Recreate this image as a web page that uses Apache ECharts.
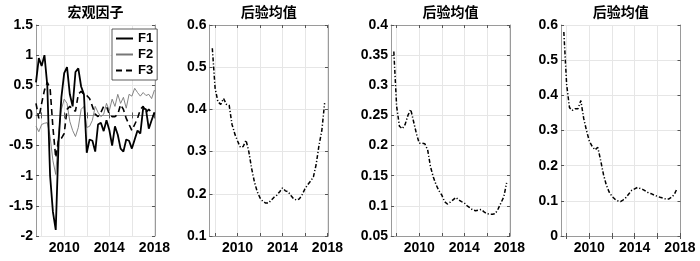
<!DOCTYPE html>
<html><head><meta charset="utf-8">
<script src="https://cdn.jsdelivr.net/npm/echarts@6/dist/echarts.min.js"></script>
<style>html,body{margin:0;padding:0;background:#fff}#c{width:700px;height:261px}</style>
</head><body><div id="c"></div>
<script>
// ---- data ----
const titles = ['宏观因子', '后验均值', '后验均值', '后验均值'];
const xTickValues = [2008, 2010, 2012, 2014, 2016, 2018];
const xLabelValues = [2010, 2014, 2018];
// panel 1: quarterly 2007.50 .. 2018.00
const timeF = [2007.5,2007.75,2008,2008.25,2008.5,2008.75,2009,2009.25,2009.5,2009.75,2010,2010.25,2010.5,2010.75,2011,2011.25,2011.5,2011.75,2012,2012.25,2012.5,2012.75,2013,2013.25,2013.5,2013.75,2014,2014.25,2014.5,2014.75,2015,2015.25,2015.5,2015.75,2016,2016.25,2016.5,2016.75,2017,2017.25,2017.5,2017.75,2018];
const f1 = [0.55,0.95,0.82,1.0,0.5,-1.0,-1.6,-1.9,-0.45,0.3,0.7,0.8,0.35,0.15,0.72,0.78,0.48,0.35,-0.62,-0.4,-0.42,-0.6,-0.15,-0.12,-0.26,-0.08,-0.24,-0.5,-0.18,-0.32,-0.55,-0.6,-0.4,-0.42,-0.55,-0.4,-0.25,-0.3,0.12,0.1,-0.22,-0.08,0.05];
const f2 = [-0.18,-0.27,-0.15,-0.13,-0.12,-0.35,-0.75,-0.98,-0.3,0.1,0.27,0.2,-0.1,-0.25,-0.35,-0.2,0.1,0.15,-0.2,-0.18,-0.08,0.15,0.05,-0.02,0.02,0.2,0.08,0.27,0.15,0.35,0.2,0.3,0.12,0.35,0.32,0.45,0.38,0.32,0.38,0.33,0.35,0.28,0.42];
const f3 = [0.2,-0.05,0.2,0.42,0.55,0.45,-0.2,-0.7,-0.4,-0.38,-0.3,0.1,0.15,0.1,0.07,0.35,0.4,0.35,0.33,0.28,0.15,0.02,-0.02,0.05,0.15,0.15,0.02,-0.02,-0.02,0.02,0.18,0.1,-0.05,-0.15,-0.25,-0.15,-0.05,0.1,0.15,0.05,0.1,0.05,0.02];
// panels 2-4: quarterly 2007.75 .. 2017.75
const timeP = [2007.75,2008,2008.25,2008.5,2008.75,2009,2009.25,2009.5,2009.75,2010,2010.25,2010.5,2010.75,2011,2011.25,2011.5,2011.75,2012,2012.25,2012.5,2012.75,2013,2013.25,2013.5,2013.75,2014,2014.25,2014.5,2014.75,2015,2015.25,2015.5,2015.75,2016,2016.25,2016.5,2016.75,2017,2017.25,2017.5,2017.75];
const post1 = [0.545,0.45,0.418,0.412,0.426,0.412,0.41,0.365,0.342,0.325,0.31,0.312,0.327,0.3,0.26,0.228,0.205,0.19,0.182,0.178,0.178,0.185,0.192,0.197,0.205,0.214,0.207,0.205,0.196,0.188,0.185,0.188,0.198,0.212,0.222,0.23,0.24,0.27,0.315,0.35,0.415];
const post2 = [0.356,0.265,0.232,0.228,0.235,0.25,0.26,0.24,0.22,0.204,0.204,0.203,0.193,0.165,0.148,0.135,0.125,0.118,0.107,0.103,0.106,0.11,0.114,0.11,0.107,0.105,0.1,0.097,0.093,0.092,0.093,0.094,0.09,0.087,0.086,0.086,0.087,0.095,0.105,0.115,0.138];
const post3 = [0.58,0.43,0.365,0.357,0.362,0.362,0.385,0.335,0.3,0.27,0.255,0.245,0.252,0.215,0.175,0.145,0.125,0.113,0.105,0.1,0.098,0.103,0.11,0.12,0.13,0.134,0.138,0.135,0.132,0.127,0.122,0.12,0.116,0.113,0.11,0.108,0.105,0.105,0.11,0.118,0.135];
const yRanges = [[-2, 1.5, 0.5], [0.1, 0.6, 0.1], [0.05, 0.4, 0.05], [0, 0.6, 0.1]];

// ---- layout / style ----
const FONT = '"Liberation Sans", "Noto Sans CJK SC", sans-serif';
const grids = [
  {left: 36, top: 25, width: 119, height: 211},
  {left: 209.5, top: 25, width: 118.5, height: 211},
  {left: 391, top: 25, width: 119, height: 211},
  {left: 561, top: 25, width: 119.5, height: 211}
];
const X_MIN = 2007.5, X_MAX = 2018.05;
const BORDER = '#9a9a9a', GRIDC = '#e6e6e6';
const zip = (xs, ys) => xs.map((x, i) => [x, ys[i]]);

const xAxes = [], yAxes = [], titleArr = [];
grids.forEach((g, i) => {
  xAxes.push({
    type: 'value', gridIndex: i, position: 'bottom', min: X_MIN, max: X_MAX,
    axisLine: {show: true, lineStyle: {color: BORDER, width: 1}},
    axisTick: {show: true, inside: true, length: 3, customValues: xTickValues, lineStyle: {color: '#555'}},
    axisLabel: {customValues: xLabelValues, margin: 5, color: '#000', fontWeight: 'bold', fontSize: 14, fontFamily: FONT,
                formatter: v => String(Math.round(v))},
    splitLine: {show: true, lineStyle: {color: GRIDC, width: 1}}
  });
  const [mn, mx, iv] = yRanges[i];
  yAxes.push({
    type: 'value', gridIndex: i, position: 'left', min: mn, max: mx, interval: iv,
    axisLine: {show: true, lineStyle: {color: BORDER, width: 1}},
    axisTick: {show: true, inside: true, length: 3, lineStyle: {color: '#555'}},
    axisLabel: {margin: 3, color: '#000', fontWeight: 'bold', fontSize: 14, fontFamily: FONT},
    splitLine: {show: true, lineStyle: {color: GRIDC, width: 1}}
  });
  titleArr.push({
    text: titles[i], left: g.left + g.width / 2, top: 5, textAlign: 'center', padding: 0,
    textStyle: {fontSize: 14, fontWeight: 'bold', color: '#000', fontFamily: '"Noto Sans CJK SC", sans-serif'}
  });
});
grids.forEach((g, i) => {
  xAxes.push({
    type: 'value', gridIndex: i, position: 'top', min: X_MIN, max: X_MAX,
    axisLine: {show: true, lineStyle: {color: BORDER, width: 1}},
    axisTick: {show: true, inside: true, length: 3, customValues: xTickValues, lineStyle: {color: '#555'}},
    axisLabel: {show: false}, splitLine: {show: false}
  });
  const [mn, mx, iv] = yRanges[i];
  yAxes.push({
    type: 'value', gridIndex: i, position: 'right', min: mn, max: mx, interval: iv,
    axisLine: {show: true, lineStyle: {color: BORDER, width: 1}},
    axisTick: {show: true, inside: true, length: 3, lineStyle: {color: '#555'}},
    axisLabel: {show: false}, splitLine: {show: false}
  });
});

const DASHDOT = [4, 2, 1.2, 2];
const series = [
  {name: 'F1', type: 'line', xAxisIndex: 0, yAxisIndex: 0, data: zip(timeF, f1), symbol: 'none',
   lineStyle: {color: '#000', width: 1.8}, itemStyle: {color: '#000'}, z: 5},
  {name: 'F2', type: 'line', xAxisIndex: 0, yAxisIndex: 0, data: zip(timeF, f2), symbol: 'none',
   lineStyle: {color: '#777', width: 0.9}, itemStyle: {color: '#777'}, z: 3},
  {name: 'F3', type: 'line', xAxisIndex: 0, yAxisIndex: 0, data: zip(timeF, f3), symbol: 'none',
   lineStyle: {color: '#000', width: 1.6, type: [6, 4]}, itemStyle: {color: '#000'}, z: 4},
  {type: 'line', xAxisIndex: 1, yAxisIndex: 1, data: zip(timeP, post1), symbol: 'none',
   lineStyle: {color: '#000', width: 1.5, type: DASHDOT}},
  {type: 'line', xAxisIndex: 2, yAxisIndex: 2, data: zip(timeP, post2), symbol: 'none',
   lineStyle: {color: '#000', width: 1.5, type: DASHDOT}},
  {type: 'line', xAxisIndex: 3, yAxisIndex: 3, data: zip(timeP, post3), symbol: 'none',
   lineStyle: {color: '#000', width: 1.5, type: DASHDOT}}
];

const chart = echarts.init(document.getElementById('c'), null, {renderer: 'canvas'});
chart.setOption({
  animation: false,
  backgroundColor: '#fff',
  title: titleArr,
  grid: grids.map(g => Object.assign({containLabel: false}, g)),
  xAxis: xAxes,
  yAxis: yAxes,
  legend: {
    data: ['F1', 'F2', 'F3'], orient: 'vertical', left: 112, top: 29,
    itemWidth: 17, itemHeight: 10, itemGap: 3, padding: [3, 4, 3, 3],
    backgroundColor: '#fff', borderColor: '#333', borderWidth: 0.8, z: 10,
    itemStyle: {opacity: 0, borderWidth: 0},
    textStyle: {fontFamily: FONT, fontWeight: 'bold', fontSize: 13, color: '#000'}
  },
  series: series
});
</script></body></html>
